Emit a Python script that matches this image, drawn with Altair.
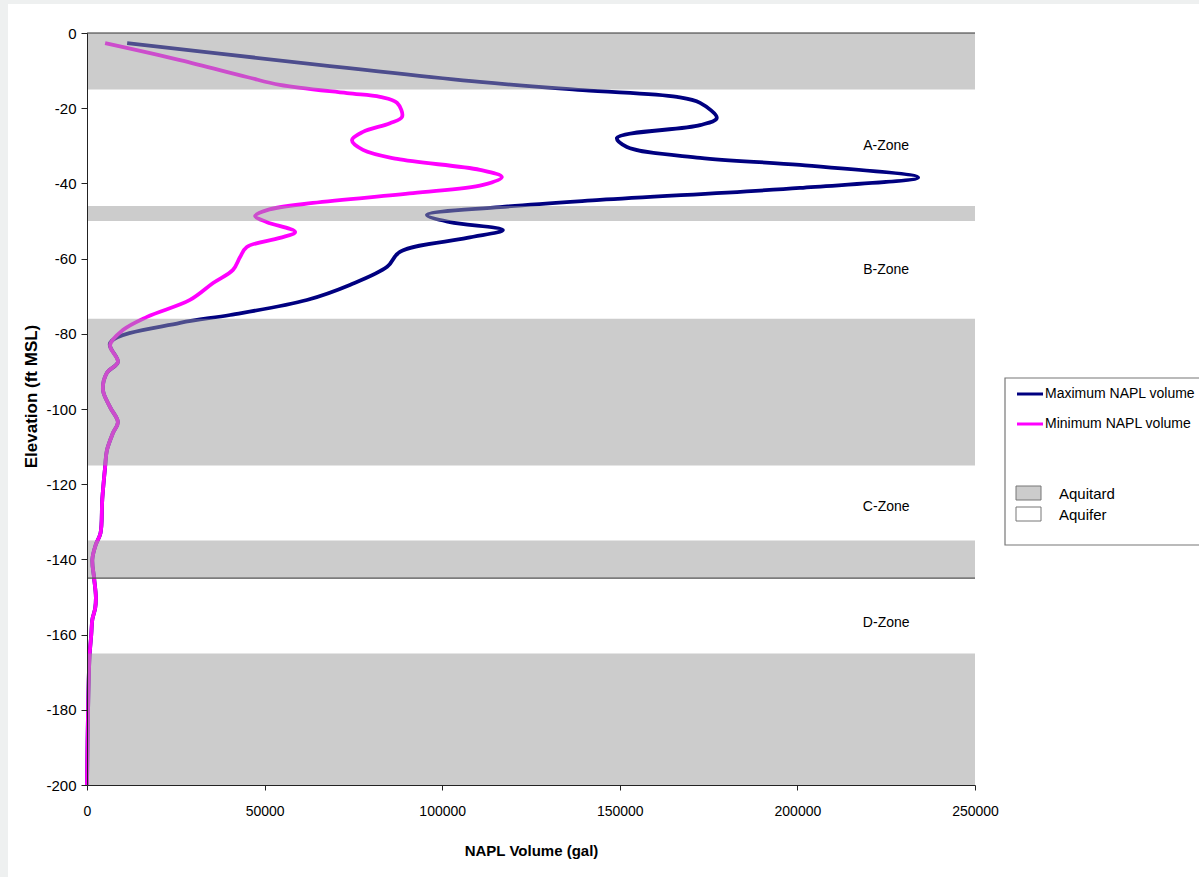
import altair as alt
import pandas as pd

# Maximum NAPL volume profile: elevation (ft MSL) and volume (gal)
max_elev = [-2.7, -13.0, -15.2, -17.0, -18.6, -22.6, -24.5, -27.9, -30.3, -33.2,
            -35.1, -38.4, -41.2, -44.4, -46.3, -48.4, -50.3, -52.4, -54.5, -58.2,
            -62.2, -67.0, -71.0, -75.0, -77.1, -82.4]
max_vol = [11300, 110600, 139600, 166100, 172600, 177300, 172600, 149200, 152000, 172600,
           200700, 234000, 200700, 144400, 116300, 95700, 102200, 117100, 107000, 88100,
           84500, 74000, 61900, 40300, 26200, 6500]

# Minimum NAPL volume profile
min_elev = [-2.7, -7.2, -11.7, -13.8, -16.0, -17.0, -18.6, -22.3, -24.0, -26.3,
            -28.5, -31.1, -33.5, -36.4, -38.3, -40.4, -42.6, -45.2, -47.1, -48.7,
            -50.3, -52.9, -54.5, -56.9, -59.6, -63.0, -66.5, -71.0, -75.5, -79.0, -83.0]
min_vol = [5100, 26200, 45000, 54300, 73200, 82500, 87300, 88700, 85300, 77700,
           74600, 77700, 87300, 110600, 116800, 111500, 91800, 63600, 50700, 47300,
           50700, 58600, 54300, 45000, 43100, 41100, 35500, 29000, 16900, 10100, 6500]

# Deeper part of the profile, shared by both estimates
tail_elev = [-87.5, -90.4, -95.0, -99.5, -103.5, -106.4, -111.0, -115.4, -124.0, -133.0,
             -136.0, -140.0, -145.0, -150.0, -153.0, -156.0, -160.0, -166.0, -180.0, -200.0]
tail_vol = [8700, 5600, 4500, 6500, 8700, 7300, 5600, 5100, 4300, 3800,
            2500, 1500, 2000, 2500, 2300, 1500, 1200, 700, 300, 0]

# Aquitard intervals (top, bottom elevation)
aquitard_top = [0, -46, -76, -135, -165]
aquitard_bottom = [-15, -50, -115, -145, -200]

# Aquifer zone labels
zone_names = ["A-Zone", "B-Zone", "C-Zone", "D-Zone"]
zone_elev = [-30, -63, -126, -157]
zone_vol = [225000, 225000, 225000, 225000]

series_names = ["Maximum NAPL volume", "Minimum NAPL volume"]
series_colors = ["#000080", "#ff00ff"]
band_names = ["Aquitard", "Aquifer"]
band_fill = ["#cccccc", "#ffffff"]

W, H = 888, 752
PAD = {"left": 87, "top": 33, "right": 224, "bottom": 92}
FONT = "Liberation Sans, Arial, sans-serif"


def profile(elev, vol):
    e = elev + tail_elev
    v = vol + tail_vol
    return pd.DataFrame({"elev": e, "vol": v, "idx": list(range(len(e)))})


max_df = profile(max_elev, max_vol)
min_df = profile(min_elev, min_vol)
bands_df = pd.DataFrame({"top": aquitard_top, "bottom": aquitard_bottom})
zones_df = pd.DataFrame({"name": zone_names, "elev": zone_elev, "vol": zone_vol})

x_scale = alt.Scale(domain=[0, 250000], nice=False, zero=False)
y_scale = alt.Scale(domain=[-200, 0], nice=False, zero=False)

x_axis = alt.Axis(
    values=[0, 50000, 100000, 150000, 200000, 250000], format="d",
    title="NAPL Volume (gal)", grid=False, domainColor="#222", tickColor="#222",
    tickSize=5, labelPadding=14, labelFlush=False, labelFont=FONT, labelFontSize=14,
    labelColor="#000",
    titleFont=FONT, titleFontSize=15, titleFontWeight="bold", titleColor="#000",
    titlePadding=25, zindex=1,
)
y_axis = alt.Axis(
    values=list(range(-200, 1, 5)),
    labelExpr="datum.value % 20 === 0 ? '' + datum.value : ''",
    tickSize={"condition": {"test": "datum.value % 20 === 0", "value": 6}, "value": 3},
    title="Elevation (ft MSL)", grid=False, domainColor="#222", tickColor="#222",
    labelPadding=5, labelFlush=False, labelFont=FONT, labelFontSize=15, labelColor="#000",
    titleFont=FONT, titleFontSize=17, titleFontWeight="bold", titleColor="#000",
    titleX=-47, titleY=363, zindex=1,
)

one = alt.Data(values=[{"k": 0}])

# White sheet behind the chart, leaving a thin grey margin at left and top
sheet = alt.Chart(one).mark_rect(fill="#ffffff").encode(
    x=alt.value(8 - PAD["left"]), x2=alt.value(W + PAD["right"]),
    y=alt.value(4 - PAD["top"]), y2=alt.value(H + PAD["bottom"]),
)


def line_layer(df, color):
    return alt.Chart(df).mark_line(
        color=color, strokeWidth=3.8, interpolate="catmull-rom"
    ).encode(
        x=alt.X("vol:Q", scale=x_scale, axis=x_axis),
        y=alt.Y("elev:Q", scale=y_scale, axis=y_axis),
        order=alt.Order("idx:Q"),
    )


max_line = line_layer(max_df, series_colors[0])
min_line = line_layer(min_df, series_colors[1])

# Translucent aquitard bands laid over the profiles
bands = alt.Chart(bands_df).mark_rect(color="#999999", opacity=0.5).encode(
    x=alt.value(0), x2=alt.value(W),
    y=alt.Y("top:Q", scale=y_scale), y2="bottom:Q",
)

contact = alt.Chart(pd.DataFrame({"elev": [aquitard_bottom[3]]})).mark_rule(
    color="#555", strokeWidth=1.2
).encode(x=alt.value(0), x2=alt.value(W), y=alt.Y("elev:Q", scale=y_scale))

top_edge = alt.Chart(one).mark_rule(color="#333", strokeWidth=1.2).encode(
    x=alt.value(0), x2=alt.value(W), y=alt.value(0)
)

zones = alt.Chart(zones_df).mark_text(font=FONT, fontSize=14, color="#000").encode(
    x=alt.X("vol:Q", scale=x_scale), y=alt.Y("elev:Q", scale=y_scale), text="name:N"
)

# Legend panel
LX, LY = 918, 345
legend_parts = [
    alt.Chart(one).mark_rect(fill="#ffffff", stroke="#777", strokeWidth=1.2).encode(
        x=alt.value(LX), x2=alt.value(LX + 260), y=alt.value(LY), y2=alt.value(LY + 167)
    )
]
for i, (name, col) in enumerate(zip(series_names, series_colors)):
    yy = LY + 16 + 30 * i
    legend_parts.append(
        alt.Chart(one).mark_rule(color=col, strokeWidth=3).encode(
            x=alt.value(LX + 12), x2=alt.value(LX + 38), y=alt.value(yy)
        )
    )
    legend_parts.append(
        alt.Chart(one).mark_text(font=FONT, fontSize=14, align="left", baseline="middle",
                                 color="#000").encode(
            x=alt.value(LX + 40), y=alt.value(yy), text=alt.value(name)
        )
    )
for i, (name, col) in enumerate(zip(band_names, band_fill)):
    yy = LY + 108 + 21 * i
    legend_parts.append(
        alt.Chart(one).mark_rect(fill=col, stroke="#777", strokeWidth=1).encode(
            x=alt.value(LX + 11), x2=alt.value(LX + 36), y=alt.value(yy), y2=alt.value(yy + 14)
        )
    )
    legend_parts.append(
        alt.Chart(one).mark_text(font=FONT, fontSize=15, align="left", baseline="middle",
                                 color="#000").encode(
            x=alt.value(LX + 54), y=alt.value(yy + 8), text=alt.value(name)
        )
    )

chart = alt.layer(
    sheet, max_line, min_line, bands, contact, top_edge, zones, *legend_parts
).properties(
    width=W, height=H,
    autosize=alt.AutoSizeParams(type="none"),
    padding=PAD,
    background="#eef0f0",
).configure_view(stroke=None)

chart.save("out.html", embed_options={"renderer": "svg", "actions": False})
